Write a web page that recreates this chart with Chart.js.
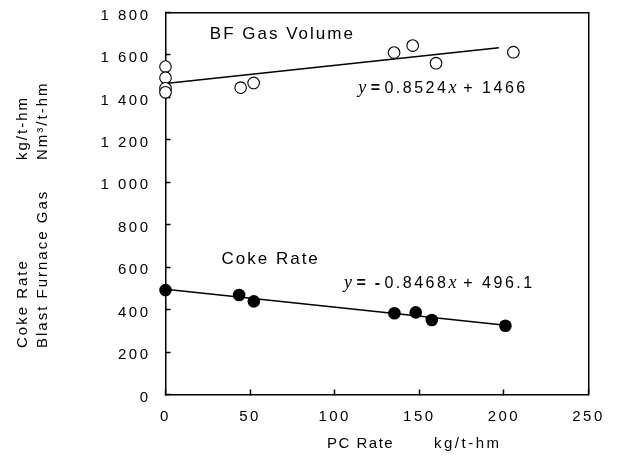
<!DOCTYPE html>
<html>
<head>
<meta charset="utf-8">
<script src="https://cdn.jsdelivr.net/npm/chart.js@4/dist/chart.umd.min.js"></script>
<style>
  html, body { margin: 0; padding: 0; background: #fff; }
  #wrap { width: 620px; height: 456px; }
</style>
</head>
<body>
<div id="wrap"><canvas id="chart" width="620" height="456"></canvas></div>
<script>
// PC rate (kg/t-hm) for each measured point
const gasPcRate = [0, 0, 0, 0, 44.4, 52.1, 135.1, 146.1, 159.9, 205.6];
const gasVolume = [1545, 1493, 1443, 1424, 1446, 1468, 1611, 1644, 1561, 1613];

const cokePcRate = [0, 43.5, 52.2, 135.3, 147.9, 157.4, 200.9];
const cokeRate = [492, 469, 439, 383, 387, 351, 324];

// fitted lines as printed on the chart: [slope, intercept], drawn over [from, to]
const gasFit = [0.8524, 1466];
const gasFitRange = [0, 197];
const cokeFit = [-0.8468, 496.1];
const cokeFitRange = [0, 201];

const xTicks = [0, 50, 100, 150, 200, 250];
const yTicks = [0, 200, 400, 600, 800, 1000, 1200, 1400, 1600, 1800];

const sans = "'Liberation Sans', Arial, sans-serif";
const serif = "'Liberation Serif', 'Times New Roman', serif";

function pts(xs, ys) {
  return xs.map((x, i) => ({ x: x, y: ys[i] }));
}
function fitLine(f, range) {
  return range.map(x => ({ x: x, y: f[0] * x + f[1] }));
}
function fmt(v) {
  if (v < 1000) return String(v);
  return Math.floor(v / 1000) + " " + String(v % 1000).padStart(3, "0");
}

// runs of text drawn next to each other: [text, font, spacing]
function runs(ctx, x, y, parts, spacing) {
  parts.forEach(p => {
    ctx.font = p[1];
    ctx.letterSpacing = (p[2] != null ? p[2] : spacing) + "px";
    ctx.fillText(p[0], x, y);
    x += ctx.measureText(p[0]).width;
  });
}

const texts = {
  id: "texts",
  beforeDraw(chart) {
    chart.ctx.letterSpacing = "2.5px";
  },
  afterDraw(chart) {
    const ctx = chart.ctx;
    const xs = chart.scales.x, ys = chart.scales.y;
    ctx.save();
    ctx.fillStyle = "#000";
    ctx.textBaseline = "middle";
    ctx.textAlign = "left";

    const big = "17px " + sans;
    const mid = "15px " + sans;
    const num = "16px " + sans;
    const it = "italic 18px " + serif;
    const eq = "bold 16px " + sans;

    runs(ctx, xs.getPixelForValue(26.2), ys.getPixelForValue(1697), [["BF Gas Volume", big]], 2);
    runs(ctx, xs.getPixelForValue(33.1), ys.getPixelForValue(638), [["Coke Rate", big]], 2);

    runs(ctx, xs.getPixelForValue(113.9), ys.getPixelForValue(1442), [
      ["y", it, 0], [" = ", eq, 0], ["0.8524", num], ["x", it, 0], [" + 1466", num]
    ], 2.5);
    runs(ctx, xs.getPixelForValue(105.5), ys.getPixelForValue(524), [
      ["y", it, 0], [" =  - ", eq, 0], ["0.8468", num], ["x", it, 0], [" + 496.1", num]
    ], 2.5);

    // x axis title
    runs(ctx, 327, 444, [["PC Rate", mid]], 1.5);
    runs(ctx, 434, 444, [["kg/t-hm", mid]], 2.5);

    // y axis title, two rotated lines
    const yTitle = [
      [23, 348, "Coke Rate"], [23, 160, "kg/t-hm"],
      [43, 348, "Blast Furnace Gas"], [43, 160, "Nm³/t-hm"]
    ];
    yTitle.forEach(t => {
      ctx.save();
      ctx.translate(t[0], t[1]);
      ctx.rotate(-Math.PI / 2);
      runs(ctx, 0, 0, [[t[2], mid]], 2);
      ctx.restore();
    });
    ctx.restore();
  }
};

// ticks point into the plot
const inTicks = {
  display: true,
  drawOnChartArea: false,
  drawTicks: true,
  tickLength: -5,
  tickWidth: 1.5,
  color: "#000"
};
const edge = { display: true, color: "#000", width: 1.5 };

new Chart(document.getElementById("chart"), {
  type: "scatter",
  data: {
    datasets: [
      {
        label: "BF Gas Volume fit",
        data: fitLine(gasFit, gasFitRange),
        showLine: true,
        borderColor: "#000",
        borderWidth: 1.5,
        pointRadius: 0,
        order: 3
      },
      {
        label: "Coke Rate fit",
        data: fitLine(cokeFit, cokeFitRange),
        showLine: true,
        borderColor: "#000",
        borderWidth: 1.5,
        pointRadius: 0,
        order: 3
      },
      {
        label: "BF Gas Volume",
        data: pts(gasPcRate, gasVolume),
        pointRadius: 5.8,
        pointBackgroundColor: "#fff",
        pointBorderColor: "#000",
        pointBorderWidth: 1.1,
        clip: false,
        order: 1
      },
      {
        label: "Coke Rate",
        data: pts(cokePcRate, cokeRate),
        pointRadius: 6.3,
        pointBackgroundColor: "#000",
        pointBorderColor: "#000",
        pointBorderWidth: 0,
        clip: false,
        order: 1
      }
    ]
  },
  options: {
    responsive: false,
    animation: false,
    events: [],
    layout: { padding: { top: 12.5, right: 31.5, left: 0, bottom: 0 } },
    plugins: {
      legend: { display: false },
      tooltip: { enabled: false }
    },
    scales: {
      x: {
        type: "linear",
        position: "bottom",
        min: 0,
        max: 250,
        afterFit: s => { s.height = 61.5; s.paddingLeft = 0; s.paddingRight = 0; },
        afterBuildTicks: s => { s.ticks = xTicks.map(v => ({ value: v })); },
        grid: inTicks,
        border: edge,
        ticks: {
          color: "#000",
          font: { family: sans, size: 15 },
          padding: 18,
          maxRotation: 0
        }
      },
      y: {
        type: "linear",
        position: "left",
        min: 0,
        max: 1800,
        afterFit: s => { s.width = 165.5; s.paddingTop = 0; s.paddingBottom = 0; },
        afterBuildTicks: s => { s.ticks = yTicks.map(v => ({ value: v })); },
        grid: inTicks,
        border: edge,
        ticks: {
          color: "#000",
          font: { family: sans, size: 15 },
          padding: 20,
          labelOffset: 3,
          callback: v => fmt(v)
        }
      },
      x2: {
        type: "linear",
        position: "top",
        min: 0,
        max: 250,
        afterFit: s => { s.height = 0; s.paddingLeft = 0; s.paddingRight = 0; },
        grid: { display: false, drawTicks: false },
        border: edge,
        ticks: { display: false }
      },
      y2: {
        type: "linear",
        position: "right",
        min: 0,
        max: 1800,
        afterFit: s => { s.width = 0; s.paddingTop = 0; s.paddingBottom = 0; },
        grid: { display: false, drawTicks: false },
        border: edge,
        ticks: { display: false }
      }
    }
  },
  plugins: [texts]
});
</script>
</body>
</html>
